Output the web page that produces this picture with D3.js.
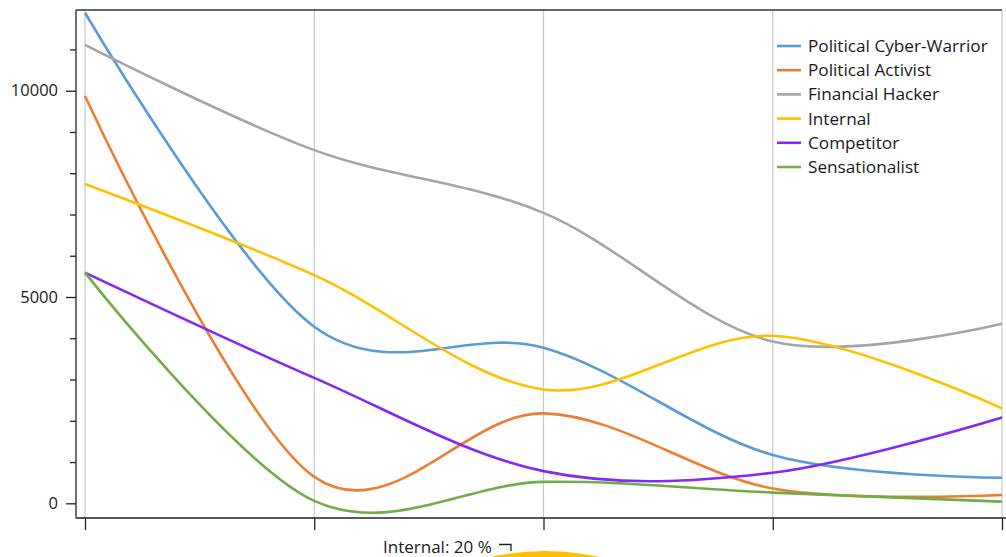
<!DOCTYPE html>
<html>
<head>
<meta charset="utf-8">
<script src="https://cdn.jsdelivr.net/npm/d3@7"></script>
<style>
  html, body { margin: 0; padding: 0; background: #fff; overflow: hidden; }
  svg { display: block; font-family: "Open Sans", "Noto Sans", sans-serif; }
</style>
</head>
<body>
<svg id="chart" width="1006" height="557"></svg>
<script>
// ---- data ----
const categories = ["P1", "P2", "P3", "P4", "P5"];
const seriesNames = ["Political Cyber-Warrior", "Political Activist", "Financial Hacker", "Internal", "Competitor", "Sensationalist"];
const seriesColors = ["#5b9bd5", "#ed7d31", "#a5a5a5", "#ffc000", "#8528f5", "#70ad47"];
const cyberWarrior = [11890, 4280, 3770, 1170, 620];
const activist     = [9870, 640, 2180, 360, 200];
const financial    = [11110, 8560, 7040, 3920, 4350];
const internal     = [7740, 5530, 2760, 4060, 2300];
const competitor   = [5590, 3040, 780, 740, 2080];
const sensational  = [5590, 60, 520, 260, 40];
const seriesValues = [cyberWarrior, activist, financial, internal, competitor, sensational];
const yMajorTicks = [0, 5000, 10000];
const yMinorTicks = [1000, 2000, 3000, 4000, 6000, 7000, 8000, 9000, 11000];
const yDomain = [-356, 11956];
const pieLabel = "Internal: 20 %";
const pieShare = 0.20;

// ---- layout ----
const svg = d3.select("#chart");
const plotLeft = 76, plotRight = 1002, plotTop = 10, plotBottom = 518;

const x = d3.scalePoint().domain(categories).range([85, 1002]);
const y = d3.scaleLinear().domain(yDomain).range([plotBottom, plotTop]);

// gridlines
svg.append("g").selectAll("line").data(categories).join("line")
  .attr("x1", d => x(d)).attr("x2", d => x(d))
  .attr("y1", plotTop).attr("y2", plotBottom)
  .attr("stroke", "#c8c8c8").attr("stroke-width", 1.2);

// series lines
const line = d3.line()
  .x((d, i) => x(categories[i]))
  .y(d => y(d))
  .curve(d3.curveCardinal.tension(0));

svg.append("g").selectAll("path").data(seriesValues).join("path")
  .attr("d", d => line(d))
  .attr("fill", "none")
  .attr("stroke", (d, i) => seriesColors[i])
  .attr("stroke-width", 2.6)
  .attr("stroke-linejoin", "round");

// frame: top
svg.append("line").attr("x1", plotLeft).attr("x2", plotRight).attr("y1", plotTop).attr("y2", plotTop)
  .attr("stroke", "#333").attr("stroke-width", 1.3);

// y axis
const yAxis = d3.axisLeft(y).tickValues(yMajorTicks).tickSize(10).tickPadding(8).tickFormat(d3.format("d"));
const gy = svg.append("g").attr("transform", `translate(${plotLeft},0)`).call(yAxis);
gy.select(".domain").remove();
gy.selectAll(".tick line").attr("stroke", "#222").attr("stroke-width", 1.3);
gy.selectAll(".tick text").attr("font-size", 16.5).attr("fill", "#1a1a1a")
  .attr("font-family", "'Open Sans', sans-serif");
const yMinor = d3.axisLeft(y).tickValues(yMinorTicks).tickSize(6).tickFormat("");
const gym = svg.append("g").attr("transform", `translate(${plotLeft},0)`).call(yMinor);
gym.select(".domain").remove();
gym.selectAll(".tick line").attr("stroke", "#222").attr("stroke-width", 1.3);
svg.append("line").attr("x1", plotLeft).attr("x2", plotLeft).attr("y1", plotTop).attr("y2", plotBottom)
  .attr("stroke", "#222").attr("stroke-width", 1.3);

// x axis
const xAxis = d3.axisBottom(x).tickSize(12).tickFormat("");
const gx = svg.append("g").attr("transform", `translate(0,${plotBottom})`).call(xAxis);
gx.select(".domain").remove();
gx.selectAll(".tick line").attr("stroke", "#222").attr("stroke-width", 1.3);
svg.append("line").attr("x1", plotLeft).attr("x2", 1006).attr("y1", plotBottom).attr("y2", plotBottom)
  .attr("stroke", "#222").attr("stroke-width", 1.3);

// legend
const legend = svg.append("g").attr("transform", "translate(777,46)");
const items = legend.selectAll("g").data(seriesNames).join("g")
  .attr("transform", (d, i) => `translate(0,${i * 24.2})`);
items.append("line").attr("x1", 0).attr("x2", 24).attr("y1", 0).attr("y2", 0)
  .attr("stroke", (d, i) => seriesColors[i]).attr("stroke-width", 2.6);
items.append("text").attr("x", 31).attr("y", 0).attr("dy", "0.35em")
  .attr("font-size", 17.2).attr("fill", "#1a1a1a").text(d => d);

// partial pie below (only top of the Internal slice is visible)
const pieR = 255;
const pieCx = 545, pieCy = 551 + pieR;
const arc = d3.arc().innerRadius(0).outerRadius(pieR);
svg.append("path")
  .attr("transform", `translate(${pieCx},${pieCy})`)
  .attr("d", arc({ startAngle: -Math.PI * pieShare, endAngle: Math.PI * pieShare }))
  .attr("fill", "#ffc000");

svg.append("text").attr("x", 383).attr("y", 553).attr("font-size", 17)
  .attr("fill", "#1a1a1a").text(pieLabel);
svg.append("path").attr("d", "M499,544.5 H511 V551")
  .attr("fill", "none").attr("stroke", "#222").attr("stroke-width", 1.3);
</script>
</body>
</html>
